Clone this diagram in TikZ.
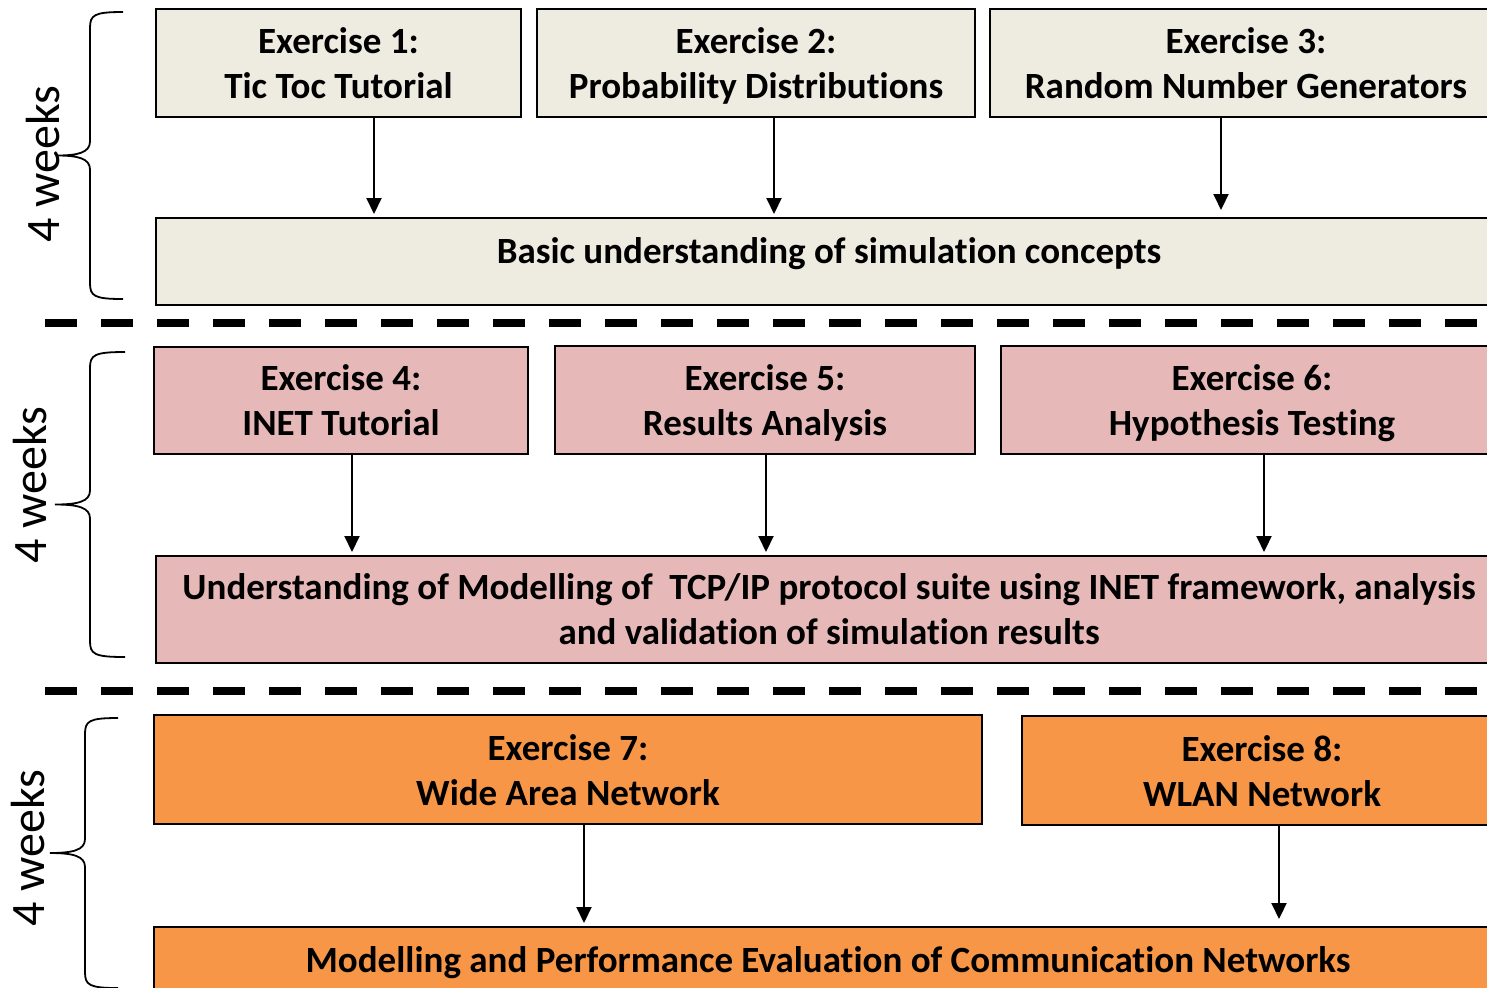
\documentclass[tikz,border=0pt]{standalone}
\usepackage{fontspec}
\setmainfont{Carlito}[Ligatures=NoCommon]
\usetikzlibrary{arrows.meta,calc}
\definecolor{rowA}{RGB}{238,236,225}
\definecolor{rowB}{RGB}{230,185,184}
\definecolor{rowC}{RGB}{247,150,70}
\tikzset{
  exbox/.style={draw, line width=1pt, anchor=north west, inner sep=0pt, align=center,
    text depth=0pt, font=\bfseries\fontsize{18.5}{22.5}\selectfont},
  onerow/.style={text depth=11pt},
  arr/.style={line width=1pt, -{Triangle[width=7.5pt,length=8pt]}, shorten >=1.5pt},
  sepline/.style={line width=4pt, dash pattern=on 16pt off 12pt},
  wkbrace/.style={line width=0.9pt},
  wklabel/.style={rotate=90, font=\fontsize{24}{28}\selectfont}
}
\begin{document}
\begin{tikzpicture}[x=0.5pt,y=-0.5pt]
\clip (0,0) rectangle (1487,987);

% first four weeks
\node[exbox, fill=rowA, minimum width=182.5pt, minimum height=54pt] (ex1) at (155,8) {Exercise 1:\\Tic Toc Tutorial};
\node[exbox, fill=rowA, minimum width=219pt, minimum height=54pt] (ex2) at (536,8) {Exercise 2:\\Probability Distributions};
\node[exbox, fill=rowA, minimum width=256pt, minimum height=54pt] (ex3) at (989,8) {Exercise 3:\\Random Number Generators};
\node[exbox, onerow, fill=rowA, minimum width=673pt, minimum height=43.5pt] (basic) at (155,217) {Basic understanding of simulation concepts};

\draw[arr] ($(ex1.south)+(35.5,0)$) coordinate (a1) -- (a1 |- basic.north);
\draw[arr] ($(ex2.south)+(18,0)$) coordinate (a2) -- (a2 |- basic.north);
\draw[arr] ($(ex3.south)+(-25,0)$) coordinate (a3) -- ($(a3 |- basic.north)+(0,-4)$);

\node[wklabel] (wk1) at (43,164) {4 weeks};

\draw[sepline] (45,323) -- (1500,323);

% second four weeks
\node[exbox, fill=rowB, minimum width=187pt, minimum height=53.5pt] (ex4) at (153,346) {Exercise 4:\\INET Tutorial};
\node[exbox, fill=rowB, minimum width=210pt, minimum height=54pt] (ex5) at (554,345) {Exercise 5:\\Results Analysis};
\node[exbox, fill=rowB, minimum width=251pt, minimum height=54pt] (ex6) at (1000,345) {Exercise 6:\\Hypothesis Testing};
\node[exbox, fill=rowB, minimum width=673pt, minimum height=53.5pt] (inet) at (155,555) {Understanding of Modelling of~ TCP/IP protocol suite using INET framework, analysis\\and validation of simulation results};

\draw[arr] ($(ex4.south)+(11,0)$) coordinate (a4) -- (a4 |- inet.north);
\draw[arr] ($(ex5.south)+(1,0)$) coordinate (a5) -- (a5 |- inet.north);
\draw[arr] ($(ex6.south)+(12,0)$) coordinate (a6) -- (a6 |- inet.north);

\node[wklabel] (wk2) at (30,485) {4 weeks};

\draw[sepline] (45,691) -- (1500,691);

% third four weeks
\node[exbox, fill=rowC, minimum width=414pt, minimum height=54.5pt] (ex7) at (153,714) {Exercise 7:\\Wide Area Network};
\node[exbox, fill=rowC, minimum width=240pt, minimum height=54.5pt] (ex8) at (1021,715) {Exercise 8:\\WLAN Network};
\node[exbox, onerow, fill=rowC, minimum width=674pt, minimum height=43.5pt] (model) at (153,926) {Modelling and Performance Evaluation of Communication Networks};

\draw[arr] ($(ex7.south)+(16,0)$) coordinate (a7) -- (a7 |- model.north);
\draw[arr] ($(ex8.south)+(17,0)$) coordinate (a8) -- ($(a8 |- model.north)+(0,-4)$);

\node[wklabel] (wk3) at (28,848) {4 weeks};

% braces: top/bottom/end x/stem x/tip x
\foreach \t/\b/\xe/\xv/\xt in {12/299/123/90/57, 352/657/125/90/55, 718/988/118/85/50}
  \draw[wkbrace] (\xe,\t) .. controls (\xv+4,\t) and (\xv,\t+3) .. (\xv,\t+16)
    -- (\xv,{(\t+\b)/2-14}) .. controls (\xv,{(\t+\b)/2-3}) and (\xv-12,{(\t+\b)/2}) .. (\xt,{(\t+\b)/2})
    .. controls (\xv-12,{(\t+\b)/2}) and (\xv,{(\t+\b)/2+3}) .. (\xv,{(\t+\b)/2+14})
    -- (\xv,\b-16) .. controls (\xv,\b-3) and (\xv+4,\b) .. (\xe,\b);
\end{tikzpicture}
\end{document}
